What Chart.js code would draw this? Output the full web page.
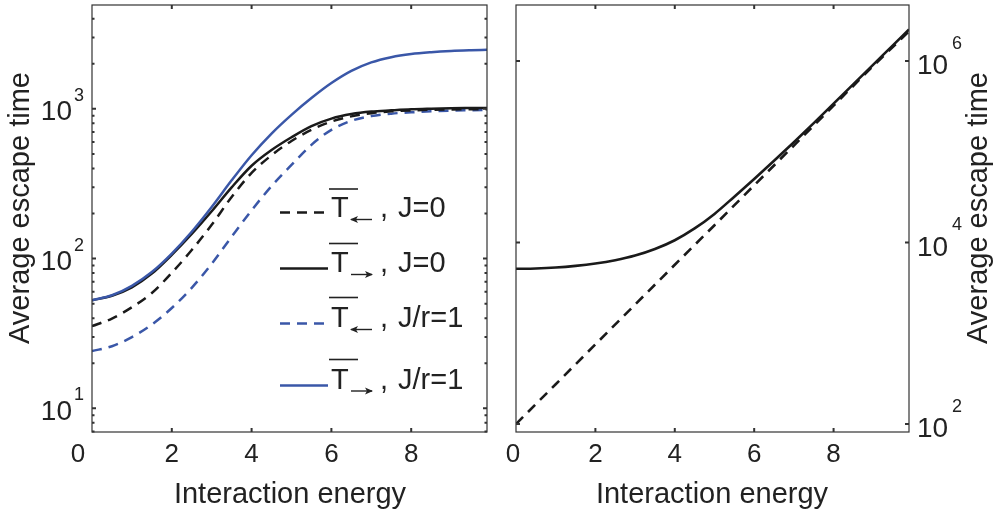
<!DOCTYPE html>
<html>
<head>
<meta charset="utf-8">
<script src="https://cdn.jsdelivr.net/npm/chart.js@4.4.1/dist/chart.umd.min.js"></script>
<style>
  body { margin: 0; background: #fff; width: 998px; height: 515px; position: relative; overflow: hidden; }
  canvas { position: absolute; top: 0; }
</style>
</head>
<body>
<canvas id="left" width="500" height="515" style="left:0"></canvas>
<canvas id="right" width="498" height="515" style="left:500px"></canvas>
<script>
// interaction energy grid (both panels)
const energy = [0, 0.5, 1, 1.5, 2, 2.5, 3, 3.5, 4, 4.5, 5, 5.5, 6, 6.5, 7, 7.5, 8, 8.5, 9, 9.5, 9.9];

// left panel: average escape times
const tRightJ1 = [52.7, 56.9, 65.8, 81.3, 108, 151, 221, 333, 490, 684, 912, 1180, 1486, 1791, 2042, 2213, 2323, 2388, 2432, 2460, 2477];
const tRightJ0 = [52.7, 56.5, 64.3, 79.4, 106, 146, 207, 299, 417, 531, 646, 767, 861, 923, 959, 977, 993, 1002, 1009, 1012, 1014];
const tLeftJ0  = [35.4, 39.8, 47.3, 58.9, 80.4, 114, 168, 258, 373, 490, 610, 724, 822, 891, 935, 962, 977, 986, 991, 993, 995];
const tLeftJ1  = [24.1, 26.0, 29.9, 36.3, 46.8, 63.8, 92.3, 140, 210, 305, 422, 575, 724, 832, 895, 929, 948, 962, 973, 979, 984];

// right panel
const energyK = [0, 1, 2, 3, 4, 5, 6, 7, 8, 9, 9.9];
const kramers = [100, 274, 753, 2070, 5680, 15500, 42700, 117000, 322000, 885000, 2120000];
const channel = [5130, 5176, 5297, 5521, 5861, 6383, 7178, 8472, 10590, 14290, 20650, 31990, 50120, 79430, 127400, 206500, 338800, 555900, 912000, 1496000, 2223000];

// tick labels
const xTicks = [0, 2, 4, 6, 8];
const yTicksLeft = [10, 100, 1000];
const yTicksRight = [100, 10000, 1000000];

const FONT = "'Liberation Sans', Arial, Helvetica, sans-serif";
const INK = '#222';
const AXIS = '#333';
const BLUE = '#3a57a8';
const BLACK = '#1a1a1a';

function series(xs, ys) {
  return xs.map((x, i) => ({ x: x, y: ys[i] }));
}

function arrow(ctx, x0, x1, y, dir) {
  ctx.beginPath();
  ctx.moveTo(x0, y);
  ctx.lineTo(x1, y);
  ctx.stroke();
  const tip = dir > 0 ? x1 : x0;
  ctx.beginPath();
  ctx.moveTo(tip + dir, y);
  ctx.lineTo(tip - dir * 7, y - 3.5);
  ctx.lineTo(tip - dir * 5, y);
  ctx.lineTo(tip - dir * 7, y + 3.5);
  ctx.closePath();
  ctx.fill();
}

// draws box, inward ticks, tick labels, titles and legend (MATLAB look)
function framePlugin(cfg) {
  return {
    id: 'frame',
    afterDraw(chart) {
      const ctx = chart.ctx;
      const a = chart.chartArea;
      const xs = chart.scales.x, ys = chart.scales.y;
      ctx.save();

      // box
      ctx.strokeStyle = AXIS;
      ctx.lineWidth = 1.2;
      ctx.strokeRect(a.left, a.top, a.right - a.left, a.bottom - a.top);

      // x ticks top & bottom
      ctx.lineWidth = 2;
      xTicks.forEach(v => {
        if (v <= xs.min) return;
        const px = xs.getPixelForValue(v);
        ctx.beginPath();
        ctx.moveTo(px, a.bottom); ctx.lineTo(px, a.bottom - 4);
        ctx.moveTo(px, a.top); ctx.lineTo(px, a.top + 4);
        ctx.stroke();
      });

      // y ticks, left & right
      const yTicks = [];
      cfg.yMajor.forEach(v => yTicks.push({ v: v, len: 4 }));
      if (cfg.minor) {
        const lo = Math.floor(Math.log10(ys.min)), hi = Math.ceil(Math.log10(ys.max));
        for (let d = lo; d <= hi; d++) {
          for (let m = 2; m <= 9; m++) {
            const v = m * Math.pow(10, d);
            if (v > ys.min && v < ys.max) yTicks.push({ v: v, len: 2.5 });
          }
        }
      }
      yTicks.forEach(t => {
        const py = ys.getPixelForValue(t.v);
        ctx.beginPath();
        ctx.moveTo(a.left, py); ctx.lineTo(a.left + t.len, py);
        ctx.moveTo(a.right, py); ctx.lineTo(a.right - t.len, py);
        ctx.stroke();
      });

      // x tick labels
      ctx.fillStyle = INK;
      ctx.font = '26px ' + FONT;
      ctx.textAlign = 'center';
      ctx.textBaseline = 'alphabetic';
      xTicks.forEach(v => {
        const px = xs.getPixelForValue(v) + (v === 0 ? cfg.zeroShift : 0);
        ctx.fillText(String(v), px, 462);
      });

      // y tick labels 10^n
      cfg.yMajor.forEach(v => {
        const py = ys.getPixelForValue(v);
        const exp = String(Math.round(Math.log10(v)));
        ctx.font = '28px ' + FONT;
        if (cfg.labelSide === 'left') {
          ctx.textAlign = 'right';
          ctx.fillText('10', cfg.labelX, py + 11.5);
          ctx.textAlign = 'left';
          ctx.font = '18px ' + FONT;
          ctx.fillText(exp, cfg.labelX + 2, py - 8);
        } else {
          ctx.textAlign = 'left';
          ctx.fillText('10', cfg.labelX, py + 13.5);
          ctx.font = '18px ' + FONT;
          ctx.fillText(exp, cfg.labelX + 35, py - 12);
        }
      });

      // axis titles
      ctx.font = '29px ' + FONT;
      ctx.textAlign = 'center';
      ctx.fillText('Interaction energy', cfg.xTitleX, 503);
      ctx.save();
      ctx.translate(cfg.yTitleX, 208);
      ctx.rotate(-Math.PI / 2);
      ctx.fillText('Average escape time', 0, 0);
      ctx.restore();

      if (cfg.legend) cfg.legend(chart, ctx);
      ctx.restore();
    }
  };
}

function legendLine(ctx, ds, x0, x1, y) {
  ctx.save();
  ctx.strokeStyle = ds.borderColor;
  ctx.lineWidth = ds.borderWidth;
  ctx.setLineDash(ds.borderDash || []);
  ctx.beginPath();
  ctx.moveTo(x0, y); ctx.lineTo(x1, y);
  ctx.stroke();
  ctx.restore();
}

function leftLegend(chart, ctx) {
  const ds = chart.data.datasets;
  const rows = [
    { i: 2, dir: -1, label: 'J=0', line: 212.5, base: 217, over: 189 },
    { i: 1, dir: 1, label: 'J=0', line: 268.5, base: 272, over: 243.5 },
    { i: 3, dir: -1, label: 'J/r=1', line: 323.5, base: 327, over: 297.5 },
    { i: 0, dir: 1, label: 'J/r=1', line: 385.5, base: 388.5, over: 359.5 }
  ];
  rows.forEach(r => {
    legendLine(ctx, ds[r.i], 280, 328, r.line);
    ctx.fillStyle = INK;
    ctx.strokeStyle = INK;
    ctx.textAlign = 'left';
    ctx.font = '29px ' + FONT;
    ctx.fillText('T', 331, r.base);
    ctx.fillText(',', 380, r.base);
    ctx.fillText(r.label, 398, r.base);
    ctx.lineWidth = 1.6;
    ctx.beginPath();
    ctx.moveTo(329, r.over); ctx.lineTo(358, r.over);
    ctx.stroke();
    ctx.lineWidth = 1.4;
    arrow(ctx, 351, 372, r.base + 2.5, r.dir);
  });
}

function rightLegend(chart, ctx) {
  const ds = chart.data.datasets;
  const rows = [
    { i: 1, label: "Kramers\u2019-Arrhenius", line: 358.5 },
    { i: 0, label: 'Asymmetric channel', line: 400.5 }
  ];
  rows.forEach(r => {
    legendLine(ctx, ds[r.i], 615, 663, r.line);
    ctx.fillStyle = INK;
    ctx.textAlign = 'left';
    ctx.font = '22.5px ' + FONT;
    ctx.fillText(r.label, 676, r.line + 9.5);
  });
}

function baseOptions(pad, yMin, yMax) {
  return {
    responsive: false,
    animation: false,
    devicePixelRatio: 1,
    layout: { padding: pad },
    plugins: { legend: { display: false }, tooltip: { enabled: false } },
    elements: {
      point: { radius: 0 },
      line: { borderWidth: 2.5, cubicInterpolationMode: 'monotone', fill: false }
    },
    scales: {
      x: {
        type: 'linear', min: 0, max: 9.9,
        ticks: { display: false }, grid: { display: false }, border: { display: false },
        afterFit: s => { s.height = 0; }
      },
      y: {
        type: 'logarithmic', min: yMin, max: yMax,
        ticks: { display: false }, grid: { display: false }, border: { display: false },
        afterFit: s => { s.width = 0; }
      }
    }
  };
}

new Chart(document.getElementById('left'), {
  type: 'line',
  data: {
    datasets: [
      { data: series(energy, tRightJ1), borderColor: BLUE, borderWidth: 2.5 },
      { data: series(energy, tRightJ0), borderColor: BLACK, borderWidth: 2.5 },
      { data: series(energy, tLeftJ0), borderColor: BLACK, borderWidth: 2.5, borderDash: [10, 7] },
      { data: series(energy, tLeftJ1), borderColor: BLUE, borderWidth: 2.5, borderDash: [10, 7] }
    ]
  },
  options: baseOptions({ left: 92, right: 13, top: 5, bottom: 83 }, 6.95, 4937),
  plugins: [framePlugin({
    yMajor: yTicksLeft, minor: true, labelSide: 'left', labelX: 72,
    zeroShift: -14, xTitleX: 290, yTitleX: 29, legend: leftLegend
  })]
});

new Chart(document.getElementById('right'), {
  type: 'line',
  data: {
    datasets: [
      { data: series(energy, channel), borderColor: BLACK, borderWidth: 2.6 },
      { data: series(energyK, kramers), borderColor: BLACK, borderWidth: 2.6, borderDash: [10, 7], tension: 0, cubicInterpolationMode: 'default' }
    ]
  },
  options: baseOptions({ left: 16, right: 89, top: 5, bottom: 83 }, 81.6, 4140000),
  plugins: [framePlugin({
    yMajor: yTicksRight, minor: false, labelSide: 'right', labelX: 417,
    zeroShift: -3, xTitleX: 212, yTitleX: 487, legend: rightLegend
  })]
});
</script>
</body>
</html>
